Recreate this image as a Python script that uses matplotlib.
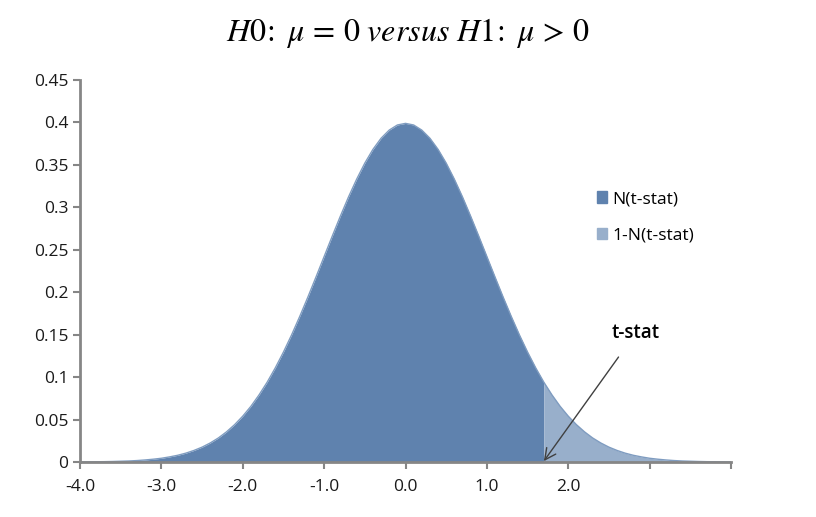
import numpy as np
import matplotlib
matplotlib.use("Agg")
from matplotlib import pyplot as plt
from matplotlib.patches import Patch

# x grid of the spreadsheet, -4.0 .. 4.0 by 0.1
x = np.round(np.arange(-40, 41) / 10, 1)
# density
pdf = [0.0001, 0.0002, 0.0003, 0.0004, 0.0006, 0.0009, 0.0012, 0.0017, 0.0024, 0.0033,
       0.0044, 0.0060, 0.0079, 0.0104, 0.0136, 0.0175, 0.0224, 0.0283, 0.0355, 0.0440,
       0.0540, 0.0656, 0.0790, 0.0940, 0.1109, 0.1295, 0.1497, 0.1714, 0.1942, 0.2179,
       0.2420, 0.2661, 0.2897, 0.3123, 0.3332, 0.3521, 0.3683, 0.3814, 0.3910, 0.3970,
       0.3989,
       0.3970, 0.3910, 0.3814, 0.3683, 0.3521, 0.3332, 0.3123, 0.2897, 0.2661, 0.2420,
       0.2179, 0.1942, 0.1714, 0.1497, 0.1295, 0.1109, 0.0940, 0.0790, 0.0656, 0.0540,
       0.0440, 0.0355, 0.0283, 0.0224, 0.0175, 0.0136, 0.0104, 0.0079, 0.0060, 0.0044,
       0.0033, 0.0024, 0.0017, 0.0012, 0.0009, 0.0006, 0.0004, 0.0003, 0.0002, 0.0001]
pdf = np.array(pdf)
t_stat = 1.7

xticks = [-4, -3, -2, -1, 0, 1, 2, 3, 4]
xlabels = ["-4.0", "-3.0", "-2.0", "-1.0", "0.0", "1.0", "2.0", "", ""]
yticks = [0, 0.05, 0.1, 0.15, 0.2, 0.25, 0.3, 0.35, 0.4, 0.45]
ylabels = ["0", "0.05", "0.1", "0.15", "0.2", "0.25", "0.3", "0.35", "0.4", "0.45"]

dark = "#5f82ae"
light = "#98afcb"
axcol = "#868686"

plt.rcParams["font.family"] = ["Open Sans", "DejaVu Sans"]
plt.rcParams["mathtext.fontset"] = "stix"

fig = plt.figure(figsize=(8.16, 5.17), dpi=100)
ax = fig.add_axes([80 / 816, 55 / 517, 651 / 816, 382 / 517])

left = x <= t_stat
right = x >= t_stat
ax.fill_between(x[left], 0, pdf[left], color=dark, lw=0)
ax.fill_between(x[right], 0, pdf[right], color=light, lw=0)
ax.plot(x, pdf, color="#7f9cc0", lw=1)

ax.set_xlim(-4, 4)
ax.set_ylim(0, 0.45)
ax.set_xticks(xticks)
ax.set_xticklabels(xlabels)
ax.set_yticks(yticks)
ax.set_yticklabels(ylabels)
ax.tick_params(labelsize=12.5, colors=axcol, labelcolor="#1a1a1a", length=5, width=1.5)
ax.tick_params(axis="x", pad=7)
for s in ["top", "right"]:
    ax.spines[s].set_visible(False)
for s in ["left", "bottom"]:
    ax.spines[s].set_color(axcol)
    ax.spines[s].set_linewidth(2)

ax.annotate("t-stat", xy=(t_stat, 0.001), xytext=(2.83, 0.152),
            ha="center", va="center", fontsize=13.5, fontweight="semibold",
            arrowprops=dict(arrowstyle="->", color="#404040", lw=1,
                            shrinkA=10, shrinkB=0, mutation_scale=20))

handles = [Patch(color=dark, label="N(t-stat)"), Patch(color=light, label="1-N(t-stat)")]
ax.legend(handles=handles, loc="upper left", bbox_to_anchor=(0.77, 0.75),
          frameon=False, fontsize=12.5, handlelength=0.6, handleheight=0.6,
          handletextpad=0.3, labelspacing=1.2)

fig.suptitle(r"$H0\!:\ \mu\,=\,0\ versus\ H1\!:\ \mu\,>\,0$", y=0.97, fontsize=23)

fig.savefig("out.png", dpi=100)
